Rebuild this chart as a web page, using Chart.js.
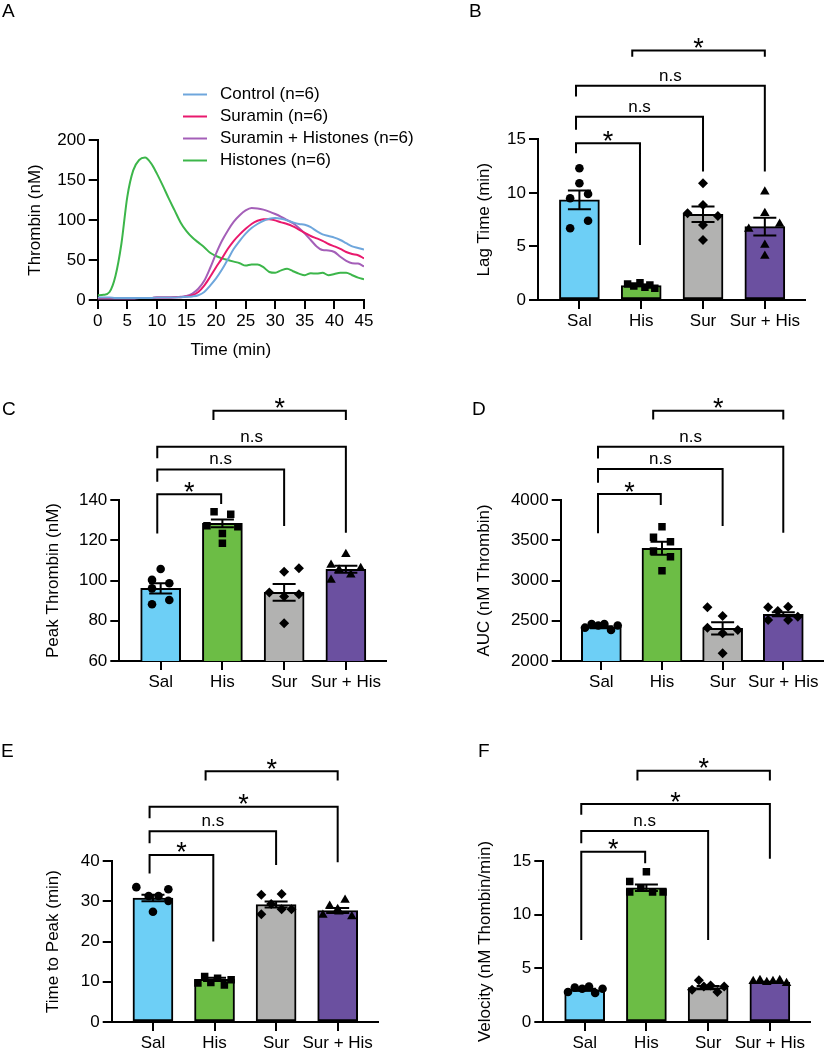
<!DOCTYPE html>
<html>
<head>
<meta charset="utf-8">
<script src="https://cdn.jsdelivr.net/npm/chart.js@4.4.1/dist/chart.umd.min.js"></script>
<style>
body{margin:0;background:#fff;}
#fig{position:relative;width:828px;height:1050px;overflow:hidden;}
canvas{position:absolute;}
.lab{position:absolute;font:19px 'Liberation Sans',Arial,sans-serif;line-height:19px;color:#000;}
</style>
</head>
<body>
<div id="fig">
<canvas id="cA" width="414" height="365" style="left:0;top:0"></canvas>
<canvas id="cB" width="414" height="365" style="left:414px;top:0"></canvas>
<canvas id="cC" width="414" height="340" style="left:0;top:365px"></canvas>
<canvas id="cD" width="414" height="340" style="left:414px;top:365px"></canvas>
<canvas id="cE" width="414" height="345" style="left:0;top:705px"></canvas>
<canvas id="cF" width="414" height="345" style="left:414px;top:705px"></canvas>
<div class="lab" style="left:2px;top:1px">A</div>
<div class="lab" style="left:469px;top:1px">B</div>
<div class="lab" style="left:2px;top:399px">C</div>
<div class="lab" style="left:472px;top:399px">D</div>
<div class="lab" style="left:1px;top:741px">E</div>
<div class="lab" style="left:478px;top:741px">F</div>
</div>
<script>
const FONT="'Liberation Sans', Arial, Helvetica, sans-serif";
Chart.defaults.font.family=FONT;
Chart.defaults.font.size=17;
Chart.defaults.color='#000';

// panel A - thrombin generation curves
const times=[0,1,2,3,4,5,6,7,8,9,10,11,12,13,14,15,16,17,18,19,20,21,22,23,24,25,26,27,28,29,30,31,32,33,34,35,36,37,38,39,40,41,42,43,44,45];
const control=[3,3,3,2.5,2.5,2.5,2.5,2.5,2.5,2.5,3,3,3,3,3.5,4,4.5,6,10,18,27,38,51,64,74,83,90,95,99,101.5,102.5,101.5,99.5,97,95,94,91,86,82,80,78,75,71,67,65,63];
const suramin=[2.5,2.5,2.5,2.5,2.5,2.5,2.5,2.5,2.5,2.5,3,3,3,3.5,3.5,4.5,6,10,18,29,41,52,64,74,82,89,95,99,101,101,99.5,97,95,92,88,84,80,77,74,70,67,64,60,57.5,56,52];
const suraminHis=[2,2,2,2,2,2,2,2.5,2.5,2.5,3,3,3,3.5,4,5,8,14,24,40,58,74,87,98,106,112,115,114.5,113,110.5,107.5,104,100,96,90,83,75,67,62.5,62,60,54,49,46,45.5,42];
const histones=[6,6.5,10,30,70,129,162,175,178,171,158,143,127,112,97,86,78,72,66,59,55,52,50,48,46,43,44.5,44.5,41,35,34,37,39,36,33,31,33.5,33,34,31,32.5,34,34,31,28,26];

const groups=['Sal','His','Sur','Sur + His'];
const barColors=['#6dcff6','#6cbd45','#b2b2b1','#6b50a0'];

// panel B - lag time
const lagMeans=[9.35,1.35,8.0,6.85];
const lagSems=[0.87,0.07,0.73,0.82];
const lagPoints=[[12.3,10.9,9.5,9.9,6.7,7.4],[1.5,1.3,1.6,1.2,1.4,1.1],[10.9,8.87,8.1,7.84,7.0,5.6],[10.1,8.1,6.63,7.1,5.13,4.1]];
const lagJitter=[[0,0,-0.15,0.14,-0.15,0.14],[-0.22,-0.12,-0.02,0.06,0.14,0.22],[0,0,-0.25,0.24,0,0],[0,0,-0.26,0.24,0,0]];
const lagBrackets=[[-0.055,0.98,14.63,13.7,5.13,'*'],[-0.055,2,17.1,15.9,12.0,'n.s'],[-0.055,3,20.0,19.0,12.0,'n.s'],[0.855,3,23.3,22.7,22.7,'*']];

// panel C - peak thrombin
const peakMeans=[96.1,128.4,94.1,105.6];
const peakSems=[2.5,1.9,4.2,1.7];
const peakPoints=[[105.7,100.3,98.6,96.1,88.2,90.3],[134.2,132.9,127.2,126.7,123.4,118.5],[104.4,106.1,94.0,92.0,93.2,78.7],[113.0,107.7,106.1,105.3,102.8,100.3]];
const peakJitter=[[0,-0.14,0.14,-0.14,-0.14,0.14],[-0.135,0.135,-0.25,0.25,0,0],[0,0.24,-0.24,0,0.24,0],[0,-0.24,0.24,-0.11,0.08,-0.24]];
const peakBrackets=[[-0.055,0.98,142.9,123.4,138.0,'*'],[-0.055,2,155.2,149.1,127.1,'n.s'],[-0.055,3,166.5,160.7,123.7,'n.s'],[0.855,3,184.3,179.7,179.7,'*']];

// panel D - AUC
const aucMeans=[2420,3400,2405,2580];
const aucSems=[12,80,75,25];
const aucPoints=[[2414,2459,2441,2459,2385,2441],[3668,3536,3482,3366,3296,3122],[2667,2559,2414,2385,2344,2095],[2667,2675,2621,2509,2509,2551]];
const aucJitter=[[-0.27,-0.16,-0.05,0.05,0.16,0.27],[0,-0.14,0.14,-0.14,0.14,0],[-0.25,0,-0.25,0.25,0,0],[-0.25,0.08,-0.09,-0.25,0.08,0.24]];
const aucBrackets=[[-0.055,0.98,4074,3586,3938,'*'],[-0.055,2,4385,4215,3677,'n.s'],[-0.055,3,4662,4517,3594,'n.s'],[0.855,3,5109,5001,5001,'*']];

// panel E - time to peak
const ttpMeans=[30.8,10.6,29.2,27.7];
const ttpSems=[0.8,0.4,0.75,0.6];
const ttpPoints=[[33.5,33.0,30.1,27.4,31.3,31.3],[11.3,10.9,9.7,9.8,9.2,10.5],[31.6,31.8,29.3,26.8,28.0,28.0],[30.3,28.8,26.6,27.4,26.2,28.0]];
const ttpJitter=[[-0.27,0.25,0.25,0,-0.07,0.09],[-0.16,0.05,-0.27,-0.06,0.16,0.27],[-0.24,0.09,-0.08,-0.24,0.09,0.25],[0.12,-0.13,-0.24,0.02,0.23,0]];
const ttpBrackets=[[-0.055,0.98,41.5,36.9,20.0,'*'],[-0.055,2,47.4,44.4,39.0,'n.s'],[-0.055,3,53.5,50.6,39.7,'*'],[0.855,3,62.3,60.0,60.0,'*']];

// panel F - velocity
const velMeans=[3.0,12.5,3.2,3.7];
const velSems=[0.1,0.3,0.15,0.05];
const velPoints=[[2.8,3.2,3.1,3.3,2.7,3.1],[13.1,12.1,14.0,12.5,12.1,12.1],[3.9,3.0,3.3,3.4,2.8,3.3],[3.8,3.9,3.7,3.8,3.9,3.6]];
const velJitter=[[-0.27,-0.16,-0.04,0.07,0.17,0.29],[-0.27,-0.27,0,-0.09,0.1,0.27],[-0.15,-0.26,-0.07,0.04,0.15,0.26],[-0.27,-0.16,-0.05,0.05,0.16,0.27]];
const velBrackets=[[-0.055,0.98,15.87,7.64,14.8,'*'],[-0.055,2,17.8,16.65,7.64,'n.s'],[-0.055,3,20.3,19.3,15.2,'*'],[0.855,3,23.4,22.5,22.5,'*']];

const markerSize={circle:4.3,rect:5.3,rectRot:5,triangle:5.5};

function frame(b,xh){
const pl=b.titleX-10.2-b.cx;
return {padding:{left:pl,top:b.T-b.cy,right:b.cx+b.cw-b.R,bottom:b.cy+b.ch-b.B-xh},yw:b.L-b.cx-pl,xh:xh};
}
function axisLine(){return {display:true,color:'#000',width:2};}
function tickGrid(){return {offset:false,drawOnChartArea:false,drawTicks:true,tickLength:9,color:'#000',lineWidth:2};}
function axisTitle(t){return {display:true,text:t,padding:0,font:{size:17,lineHeight:1.2}};}

function errorBars(means,sems){
return {id:'errorBars',afterDatasetsDraw(chart){
const {ctx,scales:{x,y}}=chart;
ctx.save();ctx.strokeStyle='#000';ctx.lineWidth=2;
means.forEach((m,i)=>{
const px=x.getPixelForValue(i),t=y.getPixelForValue(m+sems[i]),b=y.getPixelForValue(m-sems[i]);
ctx.beginPath();
ctx.moveTo(px,t);ctx.lineTo(px,b);
ctx.moveTo(px-11.5,t);ctx.lineTo(px+11.5,t);
ctx.moveTo(px-11.5,b);ctx.lineTo(px+11.5,b);
ctx.stroke();
});
ctx.restore();
}};
}

function brackets(list){
return {id:'brackets',afterDraw(chart){
const {ctx,scales:{x,y}}=chart;
ctx.save();ctx.strokeStyle='#000';ctx.fillStyle='#000';ctx.lineWidth=2;ctx.textAlign='center';ctx.textBaseline='alphabetic';
list.forEach(([a,b,top,la,lb,txt])=>{
const xa=x.getPixelForValue(a),xb=x.getPixelForValue(b),yt=y.getPixelForValue(top);
ctx.beginPath();
ctx.moveTo(xa,y.getPixelForValue(la));ctx.lineTo(xa,yt);ctx.lineTo(xb,yt);ctx.lineTo(xb,y.getPixelForValue(lb));
ctx.stroke();
const mid=(xa+xb)/2;
if(txt==='*'){ctx.font='27px '+FONT;ctx.fillText(txt,mid,yt+6.5);}
else{ctx.font='17px '+FONT;ctx.fillText(txt,mid,yt-5);}
});
ctx.restore();
}};
}

function barPanel(id,b,p){
const f=frame(b,28);
const pts=[];
p.points.forEach((grp,g)=>grp.forEach((v,k)=>pts.push({x:g+p.jitter[g][k],y:v,g:g})));
new Chart(document.getElementById(id),{
type:'bar',
data:{datasets:[
{type:'bar',data:p.means.map((m,i)=>({x:i,y:m})),backgroundColor:barColors,borderColor:'#000',borderWidth:2,borderSkipped:false,barThickness:40,order:2},
{type:'scatter',data:pts,order:1,
pointStyle:c=>c.raw?p.shapes[c.raw.g]:'circle',
pointRadius:c=>c.raw?markerSize[p.shapes[c.raw.g]]:4,
pointBackgroundColor:'#000',pointBorderWidth:0}
]},
options:{
responsive:false,animation:false,events:[],
layout:{padding:f.padding},
plugins:{legend:{display:false},tooltip:{enabled:false}},
scales:{
x:{type:'linear',offset:false,min:-0.67,max:3.65,border:axisLine(),grid:tickGrid(),
afterBuildTicks:s=>{s.ticks=groups.map((g,i)=>({value:i}));},
ticks:{callback:v=>groups[v],padding:2,autoSkip:false,maxRotation:0},
afterFit:s=>{s.height=f.xh;}},
y:{min:p.min,max:p.max,border:axisLine(),grid:tickGrid(),
ticks:{stepSize:p.step,padding:3,callback:v=>String(v)},
title:axisTitle(p.title),
afterFit:s=>{s.width=f.yw;}}
}
},
plugins:[errorBars(p.means,p.sems),brackets(p.brackets)]
});
}

// panel A
const legendA={id:'legendA',afterDraw(chart){
const ctx=chart.ctx;
ctx.save();ctx.font='17px '+FONT;ctx.textBaseline='middle';ctx.textAlign='left';ctx.lineWidth=2;
chart.data.datasets.forEach((d,i)=>{
const yy=94.5+i*22;
ctx.strokeStyle=d.borderColor;
ctx.beginPath();ctx.moveTo(183,yy);ctx.lineTo(207,yy);ctx.stroke();
ctx.fillStyle='#000';ctx.fillText(d.label,220,yy);
});
ctx.restore();
}};

const fA=frame({cx:0,cy:0,cw:414,ch:365,L:97.7,T:140,R:364,B:300,titleX:35},60.2);
const series=(v)=>times.map((t,i)=>({x:t,y:v[i]}));
new Chart(document.getElementById('cA'),{
type:'line',
data:{datasets:[
{label:'Control (n=6)',data:series(control),borderColor:'#6ea6dc'},
{label:'Suramin (n=6)',data:series(suramin),borderColor:'#e9196d'},
{label:'Suramin + Histones (n=6)',data:series(suraminHis),borderColor:'#a45fb8'},
{label:'Histones (n=6)',data:series(histones),borderColor:'#3cb64a'}
]},
options:{
responsive:false,animation:false,events:[],
layout:{padding:fA.padding},
elements:{point:{radius:0},line:{borderWidth:2,tension:0.4,cubicInterpolationMode:'monotone'}},
plugins:{legend:{display:false},tooltip:{enabled:false}},
scales:{
x:{type:'linear',min:0,max:45,border:axisLine(),grid:tickGrid(),
ticks:{stepSize:5,padding:2,autoSkip:false,maxRotation:0},
title:axisTitle('Time (min)'),
afterFit:s=>{s.height=fA.xh;}},
y:{min:0,max:200,border:axisLine(),grid:tickGrid(),
ticks:{stepSize:50,padding:3},
title:axisTitle('Thrombin (nM)'),
afterFit:s=>{s.width=fA.yw;}}
}
},
plugins:[legendA]
});

barPanel('cB',{cx:414,cy:0,cw:414,ch:365,L:538,T:139.3,R:805,B:300,titleX:484.5},
{means:lagMeans,sems:lagSems,points:lagPoints,jitter:lagJitter,brackets:lagBrackets,
shapes:['circle','rect','rectRot','triangle'],min:0,max:15,step:5,title:'Lag Time (min)'});

barPanel('cC',{cx:0,cy:365,cw:414,ch:340,L:119.3,T:500,R:386,B:661,titleX:53.3},
{means:peakMeans,sems:peakSems,points:peakPoints,jitter:peakJitter,brackets:peakBrackets,
shapes:['circle','rect','rectRot','triangle'],min:60,max:140,step:20,title:'Peak Thrombin (nM)'});

barPanel('cD',{cx:414,cy:365,cw:414,ch:340,L:560.7,T:500,R:827,B:661,titleX:484},
{means:aucMeans,sems:aucSems,points:aucPoints,jitter:aucJitter,brackets:aucBrackets,
shapes:['circle','rect','rectRot','rectRot'],min:2000,max:4000,step:500,title:'AUC (nM Thrombin)'});

barPanel('cE',{cx:0,cy:705,cw:414,ch:345,L:111.7,T:861,R:377.7,B:1022,titleX:53.3},
{means:ttpMeans,sems:ttpSems,points:ttpPoints,jitter:ttpJitter,brackets:ttpBrackets,
shapes:['circle','rect','rectRot','triangle'],min:0,max:40,step:10,title:'Time to Peak (min)'});

barPanel('cF',{cx:414,cy:705,cw:414,ch:345,L:543.3,T:861,R:810,B:1022,titleX:485},
{means:velMeans,sems:velSems,points:velPoints,jitter:velJitter,brackets:velBrackets,
shapes:['circle','rect','rectRot','triangle'],min:0,max:15,step:5,title:'Velocity (nM Thombin/min)'});
</script>
</body>
</html>
